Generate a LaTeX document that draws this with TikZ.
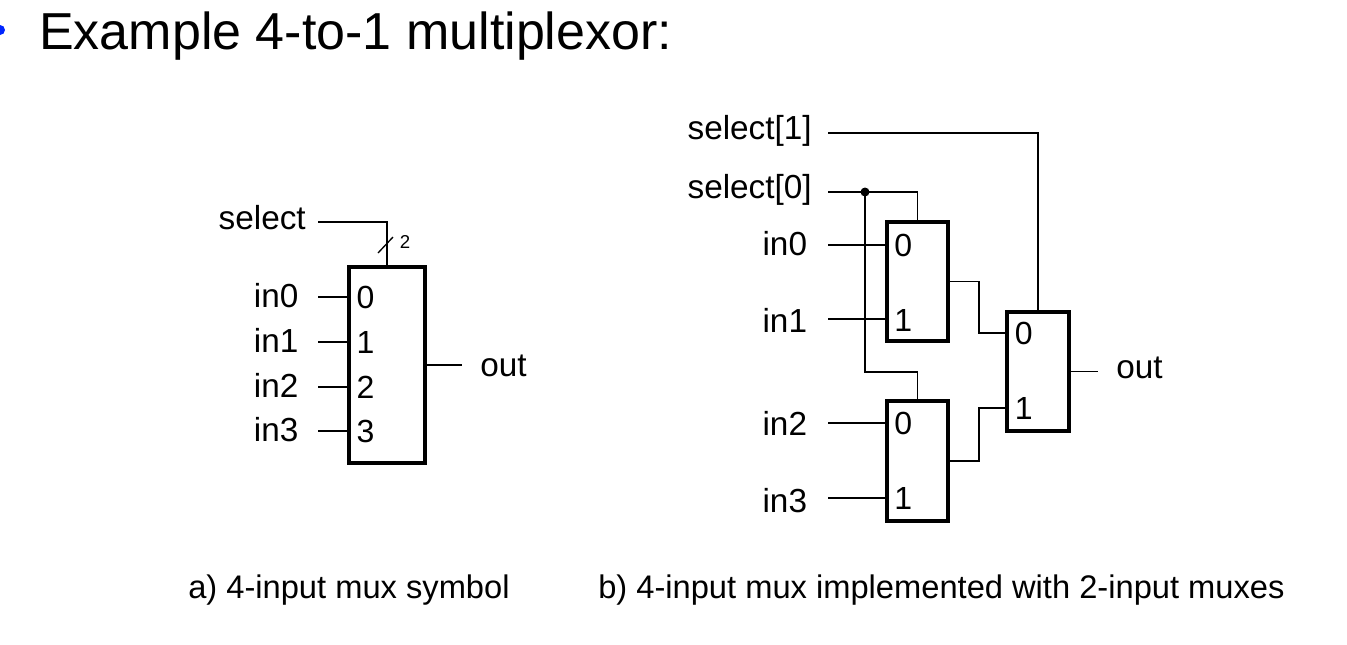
\documentclass[tikz,border=0pt]{standalone}
\usepackage{fontspec}
\setmainfont{Liberation Sans}
\usetikzlibrary{positioning}

\tikzset{
	bigmux/.style={draw, line width=2.8pt, outer sep=0pt, minimum width=57pt, minimum height=147pt},
	smallmux/.style={draw, line width=2.8pt, outer sep=0pt, minimum width=46pt, minimum height=89.6pt},
	pinlabel/.style={anchor=east, font=\fontsize{25}{25}\selectfont, text height=20pt, text depth=5pt, inner ysep=0pt, inner xsep=14.5pt},
	sellabel/.style={pinlabel, text height=16pt, inner xsep=9pt},
	rightsel/.style={pinlabel, text height=15pt, inner xsep=12pt},
	rightin/.style={pinlabel, inner xsep=15.5pt},
	outlabel/.style={anchor=west, font=\fontsize{25}{25}\selectfont, text height=21.5pt, text depth=5pt, inner ysep=0pt, inner xsep=13.5pt},
	digit/.style={anchor=west, font=\fontsize{24}{24}\selectfont, inner sep=0pt, xshift=5.5pt},
	wire/.style={line width=1pt},
	caption/.style={anchor=base west, font=\fontsize{24.5}{24.5}\selectfont, inner sep=0pt}
}

\begin{document}
\begin{tikzpicture}[x=0.75pt, y=-0.75pt]
	\useasboundingbox (0,0) rectangle (1347,644);

	\fill [blue!85!cyan] (0,30) circle (5);
	\node (title) [anchor=base west, inner sep=0pt, font=\fontsize{39}{39}\selectfont] at (39,49) {Example 4-to-1 multiplexor:};

	% a) symbol
	\node (muxA) [bigmux] at (387,365) {};
	\node (sel) [sellabel] at (318,222) {select};
	\node (inA0) [pinlabel] at (318,297) {in0};
	\node (inA1) [pinlabel] at (318,342) {in1};
	\node (inA2) [pinlabel] at (318,387) {in2};
	\node (inA3) [pinlabel] at (318,431) {in3};
	\node (outA) [outlabel] at (462,365) {out};
	\node [digit] at (inA0.east -| muxA.west) {0};
	\node [digit] at (inA1.east -| muxA.west) {1};
	\node [digit] at (inA2.east -| muxA.west) {2};
	\node [digit] at (inA3.east -| muxA.west) {3};
	\coordinate (slashA) at (378,253);
	\coordinate (slashB) at (393,237);
	\node (width) [anchor=center, inner sep=0pt, font=\fontsize{14}{14}\selectfont] at (405,242) {2};
	\draw [wire] (sel.east) -| (muxA.north);
	\draw [wire] (slashA) -- (slashB);
	\draw [wire] (inA0.east) -- (inA0.east -| muxA.west);
	\draw [wire] (inA1.east) -- (inA1.east -| muxA.west);
	\draw [wire] (inA2.east) -- (inA2.east -| muxA.west);
	\draw [wire] (inA3.east) -- (inA3.east -| muxA.west);
	\draw [wire] (muxA.east) -- (outA.west);

	% b) built from 2-input muxes
	\node (muxB) [smallmux] at (917.5,281.5) {};
	\node (muxC) [smallmux] at (917.5,461) {};
	\node (muxD) [smallmux] at (1038,371.5) {};
	\node (sel1) [rightsel] at (828,133) {select[1]};
	\node (sel0) [rightsel] at (828,192) {select[0]};
	\node (in0) [rightin] at (828,245) {in0};
	\node (in1) [rightin, text height=24.5pt] at (828,319) {in1};
	\node (in2) [rightin, text height=23pt] at (828,423) {in2};
	\node (in3) [rightin, text height=26pt] at (828,498) {in3};
	\node (outD) [outlabel, text height=15pt] at (1098,371.5) {out};
	\coordinate (pin0) at (muxD.west |- 0,333);
	\coordinate (pin1) at (muxD.west |- 0,408);
	\coordinate (join0) at (979,333);
	\coordinate (join1) at (979,408);
	\coordinate (dot) at (865,192);
	\coordinate (drop) at (865,372);
	\node [digit] at (in0.east -| muxB.west) {0};
	\node [digit, yshift=-1pt] at (in1.east -| muxB.west) {1};
	\node [digit] at (in2.east -| muxC.west) {0};
	\node [digit] at (in3.east -| muxC.west) {1};
	\node [digit] at (pin0) {0};
	\node [digit] at (pin1) {1};
	\draw [wire] (sel1.east) -| (muxD.north);
	\draw [wire] (sel0.east) -| (muxB.north);
	\fill (dot) circle (4.5);
	\draw [wire] (dot) -- (drop) -| (muxC.north);
	\draw [wire] (in0.east) -- (in0.east -| muxB.west);
	\draw [wire] (in1.east) -- (in1.east -| muxB.west);
	\draw [wire] (in2.east) -- (in2.east -| muxC.west);
	\draw [wire] (in3.east) -- (in3.east -| muxC.west);
	\draw [wire] (muxB.east) -| (join0) -- (pin0);
	\draw [wire] (muxC.east) -| (join1) -- (pin1);
	\draw [wire] (muxD.east) -- (outD.west);

	\node (capA) [caption] at (188,598) {a) 4-input mux symbol};
	\node (capB) [caption] at (598,598) {b) 4-input mux implemented with 2-input muxes};
\end{tikzpicture}
\end{document}
